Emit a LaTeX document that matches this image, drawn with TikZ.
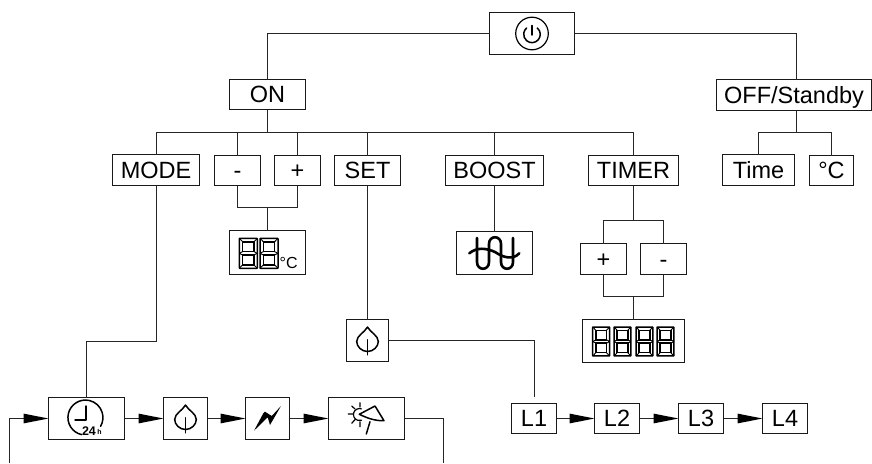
\documentclass[tikz,border=0pt]{standalone}
\usepackage{fontspec}
\setmainfont{Liberation Sans}
\usetikzlibrary{arrows.meta}
\tikzset{
  x=1pt,y=-1pt,
  wire/.style={draw=black!85,line width=1.2pt},
  boxa/.style={draw=black!90,line width=1.2pt,fill=white,inner sep=0pt,outer sep=0pt,text height=16.8pt,text depth=0pt,font=\fontsize{23.5}{24}\selectfont},
  flow/.style={wire,-{Triangle[length=25pt,width=9.5pt,black]}},
  ico/.style={line width=1.5pt,black,line cap=round,line join=round},
}
\newcommand{\bx}[6]{\node[boxa,minimum width=#4-#2,minimum height=#5-#3,anchor=north west] (#1) at (#2,#3) {#6};}
\newcommand{\digit}[4]{%
  \begin{scope}[shift={(#1,#2)},xscale=#3,yscale=#4]
  \draw[line width=1.5pt,black,line join=round] (0.5,0)--(15.5,0)--(16,0.5)--(16,25.5)--(15.5,26)--(0.5,26)--(0,25.5)--(0,0.5)--cycle;
  \draw[line width=1.5pt,black] (3,3)--(13,3)--(13,11.5)--(3,11.5)--cycle (3,14.5)--(13,14.5)--(13,23)--(3,23)--cycle;
  \draw[line width=0.9pt,black] (0,0)--(3,3) (16,0)--(13,3) (0,26)--(3,23) (16,26)--(13,23) (0,13)--(3,11.5) (0,13)--(3,14.5) (16,13)--(13,11.5) (16,13)--(13,14.5);
  \end{scope}}
\newcommand{\leaf}[2]{%
  \begin{scope}[shift={(#1,#2)}]
  \draw[ico] (0,-13.4) .. controls (3,-8) and (10.8,-5) .. (10.8,1) .. controls (10.8,6) and (6,11) .. (0,11) .. controls (-6,11) and (-10.8,6) .. (-10.8,1) .. controls (-10.8,-5) and (-3,-8) .. (0,-13.4) -- cycle;
  \draw[ico] (0,-0.7) -- (0,14.3);
  \end{scope}}
\begin{document}
\begin{tikzpicture}
\useasboundingbox (0,0) rectangle (872,463);
\fill[white] (0,0) rectangle (872,463);
% boxes
\bx{pw}{489.5}{12.5}{574.5}{54.5}{}
\bx{on}{229.5}{79.5}{305.5}{109.5}{ON}
\bx{off}{716.5}{79.5}{871.5}{110.5}{OFF/Standby}
\bx{mode}{112.5}{154.5}{199.5}{185.5}{MODE}
\bx{minus}{214.5}{155.5}{260.5}{185.5}{-}
\bx{plus}{274.5}{155.5}{320.5}{185.5}{+}
\bx{set}{334.5}{155.5}{400.5}{185.5}{SET}
\bx{boost}{445.5}{155.5}{543.5}{185.5}{BOOST}
\bx{timer}{588.5}{155.5}{678.5}{185.5}{TIMER}
\bx{time}{722.5}{154.5}{794.5}{185.5}{Time}
\bx{cel}{809.5}{155.5}{853.5}{185.5}{°C}
\bx{dd}{229.5}{230.5}{305.5}{274.5}{}
\bx{heat}{456.5}{231.5}{532.5}{274.5}{}
\bx{tplus}{580.5}{243.5}{626.5}{274.5}{+}
\bx{tminus}{640.5}{243.5}{686.5}{274.5}{-}
\bx{four}{582.5}{319.5}{684.5}{362.5}{}
\bx{leafa}{346.5}{319.5}{388.5}{361.5}{}
\bx{clock}{48.5}{397.5}{124.5}{439.5}{}
\bx{leafb}{163.5}{397.5}{207.5}{439.5}{}
\bx{bolt}{245.5}{397.5}{289.5}{439.5}{}
\bx{sun}{328.5}{397.5}{404.5}{439.5}{}
\bx{la}{511.5}{403.5}{556.5}{433.5}{L1}
\bx{lb}{594.5}{403.5}{639.5}{433.5}{L2}
\bx{lc}{678.5}{403.5}{723.5}{433.5}{L3}
\bx{ld}{762.5}{403.5}{807.5}{433.5}{L4}
\coordinate (busa) at (267.5,132.5);
\coordinate (busb) at (796.5,132.5);
\coordinate (offt) at (796.5,79.5);
\coordinate (offb) at (796.5,110.5);
% tree
\draw[wire] (pw.west) -| (on.north);
\draw[wire] (pw.east) -| (offt);
\draw[wire] (on.south) -- (busa);
\coordinate (modet) at (156.5,154.5);
\coordinate (modeb) at (156.5,185.5);
\draw[wire] (modet) |- (busa);
\draw[wire] (busa) -| (timer.north);
\draw[wire] (minus.north) |- (busa);
\draw[wire] (plus.north) |- (busa);
\draw[wire] (set.north) |- (busa);
\draw[wire] (boost.north) |- (busa);
\draw[wire] (offb) -- (busb);
\draw[wire] (time.north) |- (busb);
\draw[wire] (cel.north) |- (busb);
\coordinate (mp) at (267.5,207.5);
\draw[wire] (minus.south) |- (mp);
\draw[wire] (plus.south) |- (mp);
\draw[wire] (mp) -- (dd.north -| mp);
\draw[wire] (boost.south) -- (heat.north -| boost.south);
\coordinate (tt) at (633.5,220.5);
\draw[wire] (timer.south -| tt) -- (tt);
\draw[wire] (tplus.north) |- (tt);
\draw[wire] (tminus.north) |- (tt);
\coordinate (tb) at (633.5,296.5);
\draw[wire] (tplus.south) |- (tb);
\draw[wire] (tminus.south) |- (tb);
\draw[wire] (tb) -- (four.north -| tb);
\draw[wire] (set.south -| leafa.north) -- (leafa.north);
\coordinate (lend) at (534.5,397);
\draw[wire] (leafa.east) -| (lend);
\coordinate (mb) at (156.5,341.5);
\draw[wire] (modeb) -- (mb) -| (clock.north);
% flows
\coordinate (fa) at (9.5,463);
\coordinate (fb) at (443.5,463);
\draw[flow] (fa) |- (clock.west);
\draw[flow] (clock.east) -- (leafb.west);
\draw[flow] (leafb.east) -- (bolt.west);
\draw[flow] (bolt.east) -- (sun.west);
\draw[wire] (sun.east) -| (fb);
\draw[flow] (la.east) -- (lb.west);
\draw[flow] (lb.east) -- (lc.west);
\draw[flow] (lc.east) -- (ld.west);
% power icon
\draw[line width=1.2pt,black] (532,33.5) circle (16.3);
\draw[ico] (532,25.5) -- (532,35);
\draw[ico] (537.3,28) arc[start angle=-50,end angle=230,radius=8.3];
% 88
\digit{239.3}{238.3}{1.125}{1.154}
\digit{260}{238.3}{1.125}{1.154}
\node[inner sep=0pt,font=\fontsize{16}{16}\selectfont] (dc) at (288.7,262.5) {°C};
% heat
\begin{scope}[line width=2.6pt,black,line cap=round]
\draw (477,238) -- (477,262) .. controls (477,271) and (489,271) .. (489,262) -- (489,244) .. controls (489,235) and (501,235) .. (501,244) -- (501,262) .. controls (501,271) and (513,271) .. (513,262) -- (513,238);
\draw (469.3,253.3) .. controls (477,247) and (486,248) .. (495,252) .. controls (504,258) and (513,260) .. (519.3,253.3);
\end{scope}
% 8888
\digit{592.7}{327}{1.06}{1.115}
\digit{614}{327}{1.06}{1.115}
\digit{636}{327}{1.06}{1.115}
\digit{657}{327}{1.06}{1.115}
% leaves
\leaf{367.5}{340.5}
\leaf{185.5}{418.5}
% clock
\draw[ico] (81.5,434.6) arc[start angle=103,end angle=390,radius=17.5];
\draw[ico] (86,406) -- (86,420) -- (75,420);
\node[inner sep=0pt,font=\bfseries\fontsize{12.5}{13}\selectfont] (cl) at (89,431) {24};
\node[inner sep=0pt,font=\bfseries\fontsize{7}{7}\selectfont] (ch) at (99.5,432) {h};
% bolt
\fill[black] (281,406) -- (270,425) -- (267.7,417.3) -- (254,430.7) -- (263.3,413.3) -- (265,411.7) -- (271.7,416) -- cycle;
% sun + lamp
\draw[ico,line width=1.2pt] (361.5,408.9) arc[start angle=-70,end angle=-290,radius=6];
\draw[ico,line width=1.2pt] (348.3,414) -- (352.7,414) (351.7,406) -- (355,409) (360,402.7) -- (360,407) (351.7,423.3) -- (355.3,419.3) (360,421.7) -- (360,426.7);
\draw[ico] (359.3,414.3) -- (375,406) -- (384,420.7) .. controls (375,421) and (367,418) .. (359.3,414.3) -- cycle;
\draw[ico] (370,421.7) -- (366.3,434);
\end{tikzpicture}
\end{document}
